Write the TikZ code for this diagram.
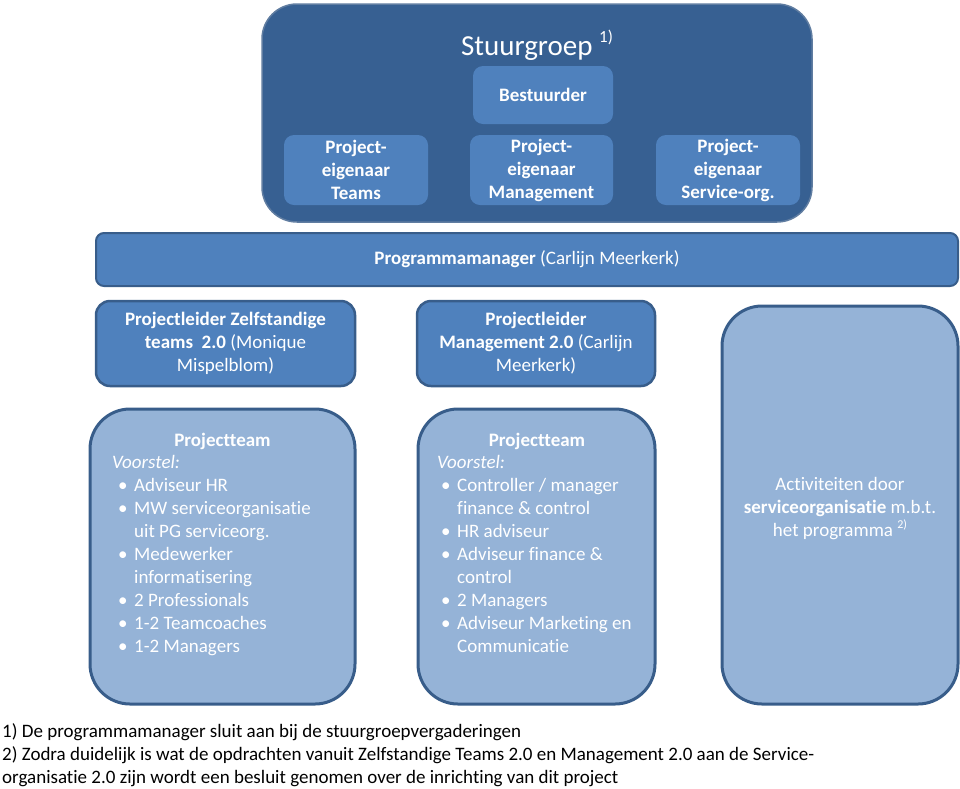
\documentclass[tikz,border=0pt]{standalone}
\usepackage{fontspec}
\setmainfont[RawFeature={-liga;-clig;-dlig;-calt}]{Carlito}
\definecolor{darkfill}{HTML}{376092}
\definecolor{midfill}{HTML}{4F81BD}
\definecolor{edgeblue}{HTML}{385D8A}
\definecolor{lightfill}{HTML}{95B3D7}
\tikzset{
  every node/.style={font=\fontsize{19}{23}\selectfont, text=white, inner sep=0pt},
  bigbox/.style={draw=edgeblue!80!white, line width=1.5pt, fill=darkfill, rounded corners=35pt},
  innerbox/.style={fill=midfill, rounded corners=10pt},
  barbox/.style={draw=edgeblue, line width=2pt, fill=midfill, rounded corners=8pt},
  leadbox/.style={draw=edgeblue, line width=2.5pt, fill=midfill, rounded corners=14pt},
  teambox/.style={draw=edgeblue, line width=3pt, fill=lightfill, rounded corners=40pt},
  boxtext/.style={align=center},
  listtext/.style={align=left, anchor=north west},
  foot/.style={text=black, anchor=base west},
}
\newcommand{\bul}[1]{\hspace*{#1}\makebox[16pt][l]{\textbullet}}
\begin{document}
\begin{tikzpicture}[x=1pt,y=-1pt]
\useasboundingbox (0,0) rectangle (960,788);
% Stuurgroep
\draw[bigbox] (262,4) rectangle (812,222);
\node (sg) at (537,45) {\fontsize{29}{34}\selectfont Stuurgroep \raisebox{0.45em}{\fontsize{17}{20}\selectfont 1)}};
\node[innerbox, minimum width=140pt, minimum height=58pt] (best) at (543,95) {\textbf{Bestuurder}};
\node[innerbox, minimum width=144pt, minimum height=70pt, boxtext] (pe1) at (356,170) {\textbf{Project-}\\\textbf{eigenaar}\\\textbf{Teams}};
\node[innerbox, minimum width=143pt, minimum height=70pt, boxtext] (pe2) at (541.5,170) {\textbf{Project-}\\\textbf{eigenaar}\\\textbf{Management}};
\node[innerbox, minimum width=144pt, minimum height=70pt, boxtext] (pe3) at (728,170) {\textbf{Project-}\\\textbf{eigenaar}\\\textbf{Service-org.}};
% Programmamanager
\node[barbox, minimum width=862pt, minimum height=53pt] (pm) at (527,259.5) {\textbf{Programmamanager} (Carlijn Meerkerk)};
% Projectleiders
\node[leadbox, minimum width=259pt, minimum height=85pt, boxtext] (pl1) at (225.5,343.5) {\textbf{Projectleider Zelfstandige}\\\textbf{teams\ \ 2.0} (Monique\\Mispelblom)};
\node[leadbox, minimum width=238pt, minimum height=85pt, boxtext] (pl2) at (536,343.5) {\textbf{Projectleider}\\\textbf{Management 2.0} (Carlijn\\Meerkerk)};
% Team boxes
\node[teambox, minimum width=265pt, minimum height=295pt] (pt1) at (222.5,556.5) {};
\node[teambox, minimum width=237pt, minimum height=295pt] (pt2) at (536.5,556.5) {};
\node[teambox, minimum width=236pt, minimum height=398pt] (sv) at (840,505) {};
% Team 1 text
\node[anchor=base] (pt1h) at (222.5,446.5) {\textbf{Projectteam}};
\node[listtext] (pt1l) at (112,452.5) {\strut\textit{Voorstel:}\\
\bul{6pt}Adviseur HR\\
\bul{6pt}MW serviceorganisatie\\
\hspace*{22pt}uit PG serviceorg.\\
\bul{6pt}Medewerker\\
\hspace*{22pt}informatisering\\
\bul{6pt}2 Professionals\\
\bul{6pt}1-2 Teamcoaches\\
\bul{6pt}1-2 Managers};
% Team 2 text
\node[anchor=base] (pt2h) at (537,446.5) {\textbf{Projectteam}};
\node[listtext] (pt2l) at (437,452.5) {\strut\textit{Voorstel:}\\
\bul{4pt}Controller / manager\\
\hspace*{20pt}finance \& control\\
\bul{4pt}HR adviseur\\
\bul{4pt}Adviseur finance \&\\
\hspace*{20pt}control\\
\bul{4pt}2 Managers\\
\bul{4pt}Adviseur Marketing en\\
\hspace*{20pt}Communicatie};
% Service box text
\node[boxtext] (svt) at (840,509) {Activiteiten door\\\textbf{serviceorganisatie} m.b.t.\\het programma \raisebox{0.45em}{\fontsize{12}{14}\selectfont 2)}};
% Footnotes
\node[foot] (f1) at (2,737) {1) De programmamanager sluit aan bij de stuurgroepvergaderingen};
\node[foot] (f2) at (2,760) {2) Zodra duidelijk is wat de opdrachten vanuit Zelfstandige Teams 2.0 en Management 2.0 aan de Service-};
\node[foot] (f3) at (2,783) {organisatie 2.0 zijn wordt een besluit genomen over de inrichting van dit project};
\end{tikzpicture}
\end{document}
